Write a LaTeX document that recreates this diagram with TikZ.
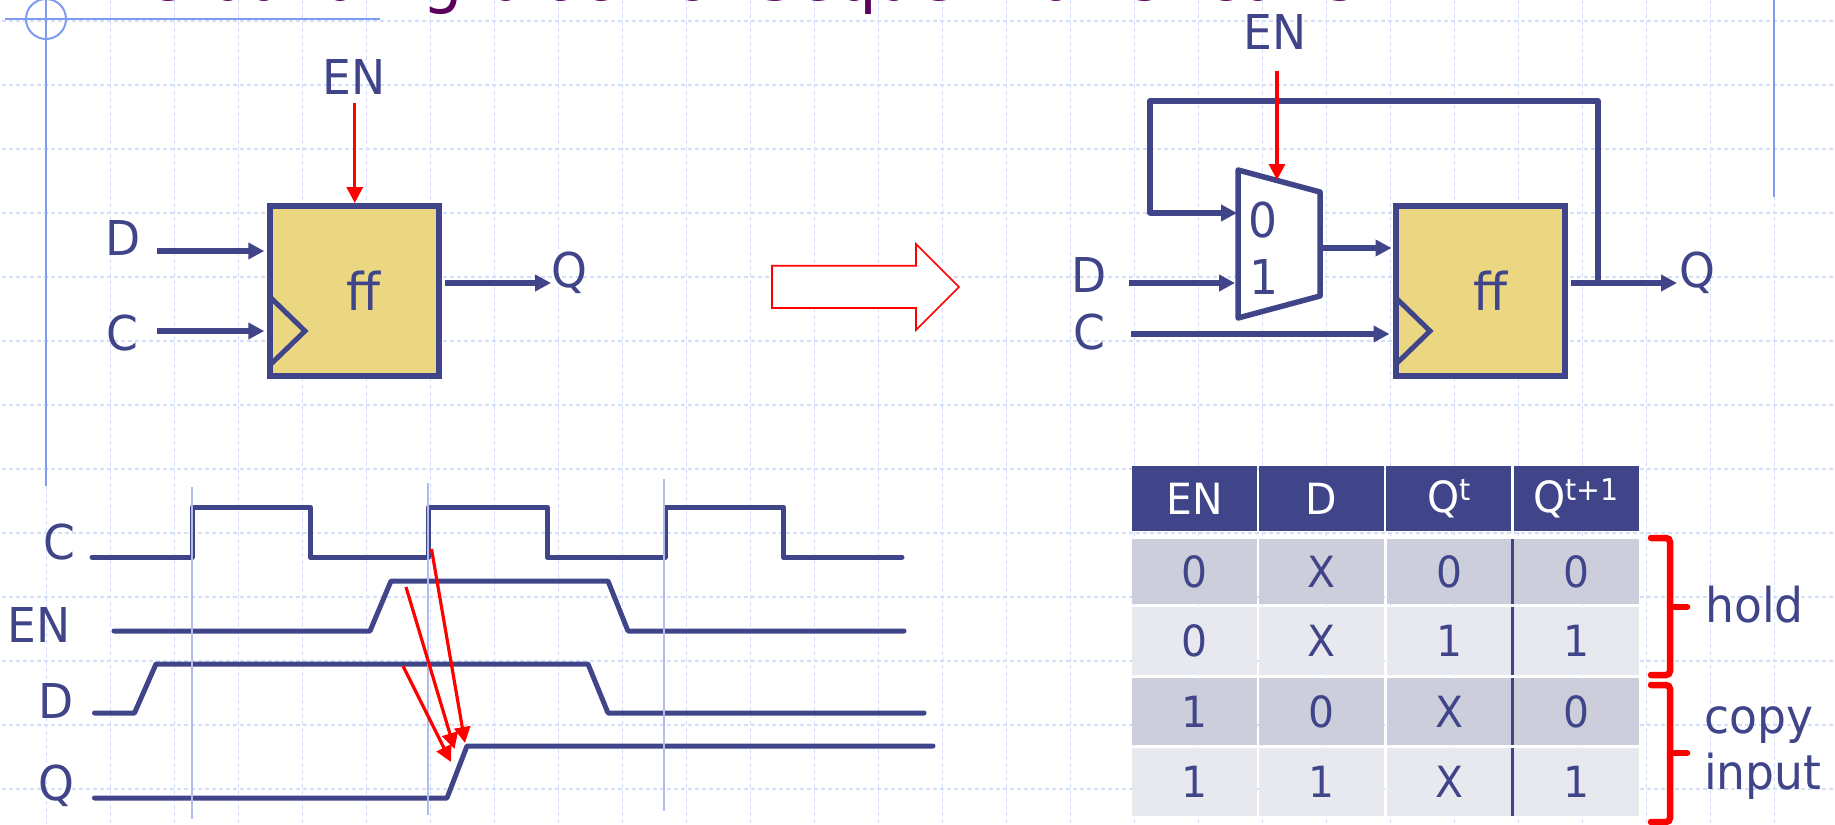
\documentclass[tikz,border=0pt]{standalone}
\usepackage{fontspec}
\setmainfont[FakeStretch=0.95]{DejaVu Sans}
\usetikzlibrary{arrows.meta,calc}
\definecolor{navy}{HTML}{40458A}
\definecolor{ffgold}{HTML}{EBD782}
\definecolor{gridc}{HTML}{D3DEF9}
\definecolor{rulec}{HTML}{7F9CF0}
\definecolor{edgec}{HTML}{B3BCEA}
\definecolor{rowd}{HTML}{CDCEDB}
\definecolor{rowl}{HTML}{E8E9EF}
\definecolor{titlec}{HTML}{5C0060}
\tikzset{
  lbl/.style={anchor=base,text=navy,inner sep=0pt,font=\fontsize{48}{48}\selectfont},
  fflbl/.style={lbl,font=\fontsize{52}{52}\selectfont},
  ffbox/.style={draw=navy,fill=ffgold,line width=6pt,minimum width=169pt,minimum height=170pt,inner sep=0pt},
  wire/.style={draw=navy,line width=5.5pt,-{Triangle[length=16pt,width=16pt]}},
  plainwire/.style={draw=navy,line width=5.5pt,line join=round,line cap=round},
  ctl/.style={draw=red,line width=3.2pt,-{Triangle[length=16pt,width=16pt]}},
  clk/.style={draw=navy,line width=5pt,line join=miter},
  wave/.style={draw=navy,line width=5pt,line join=round,line cap=round},
  edgeln/.style={draw=edgec,line width=2pt},
  brace/.style={draw=red,line width=6.5pt,rounded corners=4pt,line cap=round},
  cell/.style={minimum width=124.5pt,inner sep=0pt,text=navy,font=\fontsize{43}{43}\selectfont},
  hcell/.style={cell,fill=navy,text=white,minimum height=65pt},
  dcell/.style={cell,fill=rowd},
  lcell/.style={cell,fill=rowl},
  sepline/.style={draw=navy,line width=2.5pt},
  gridln/.style={draw=gridc,line width=1.5pt,dash pattern=on 4pt off 3pt},
}
\begin{document}
\begin{tikzpicture}[x=1pt,y=-1pt]
\useasboundingbox (0,0) rectangle (1835,824);
\clip (0,0) rectangle (1835,824);
\fill[white] (0,0) rectangle (1835,824);
% background grid
\foreach \k in {0,...,12}{\draw[gridln] (2,21+64*\k) -- (1835,21+64*\k);}
\foreach \k in {1,...,27}{\draw[gridln] (46.3+64*\k,0) -- (46.3+64*\k,824);}
\draw[gridln] (46.3,486) -- (46.3,824);
% slide furniture
\draw[rulec,line width=2pt] (46,0) -- (46,486);
\draw[rulec,line width=2pt] (5,19) -- (380,19);
\draw[rulec,line width=2pt] (46,19) circle (20);
\draw[rulec,line width=2pt] (1774,0) -- (1774,197);
\node[anchor=base west,inner sep=0pt,text=titlec,font=\fontsize{67.5}{67.5}\selectfont] (title) at (66,1) {The building block of Sequential Circuits};
% left flip-flop
\node[ffbox] (ffL) at (354.75,291) {};
\draw[clk] (270,297) -- (305,331) -- (270,365);
\node[fflbl] (ffLt) at (364,310) {ff};
\node[lbl] (enL) at (354,95) {EN};
\node[lbl] (dL) at (122.6,255) {D};
\node[lbl] (cL) at (122.6,350) {C};
\node[lbl] (qL) at (569,287) {Q};
\coordinate (enLs) at (354.75,103);
\coordinate (dLs) at (157,251);
\coordinate (cLs) at (157,331);
\coordinate (qLs) at (445,283);
\coordinate (qLe) at (551,283);
\draw[ctl] (enLs) -- (ffL.north);
\draw[wire,shorten >=3pt] (dLs) -- (ffL.west |- dLs);
\draw[wire,shorten >=3pt] (cLs) -- (ffL.west |- cLs);
\draw[wire] (qLs) -- (qLe);
% block arrow
\draw[red,line width=1.7pt,fill=white] (772,265.7) -- (916,265.7) -- (916,244) -- (959,287) -- (916,330) -- (916,308) -- (772,308) -- cycle;
% right circuit
\node[ffbox] (ffR) at (1480,291) {};
\draw[clk] (1395,297) -- (1430,331) -- (1395,365);
\node[fflbl] (ffRt) at (1490,310) {ff};
\draw[draw=navy,fill=white,line width=5.5pt,line join=round] (1238,170) coordinate (mTL) -- (1320,192) -- (1320,296) -- (1238,318) coordinate (mBL) -- cycle;
\coordinate (mTop) at (1277,180);
\node[lbl] (m0) at (1263,237) {0};
\node[lbl] (m1) at (1264,294) {1};
\node[lbl] (enR) at (1275,50) {EN};
\node[lbl] (dR) at (1089,292) {D};
\node[lbl] (cR) at (1089,349) {C};
\node[lbl] (qR) at (1697,287) {Q};
\coordinate (enRs) at (1277,71);
\coordinate (dRs) at (1129,283);
\coordinate (dRe) at (1235,283);
\coordinate (cRs) at (1131,334);
\coordinate (qRs) at (1571,283);
\coordinate (qRe) at (1677,283);
\coordinate (fbT) at (1598,283);
\coordinate (fbA) at (1598,101);
\coordinate (fbB) at (1150,101);
\coordinate (fbC) at (1150,213);
\coordinate (fbD) at (1237,213);
\coordinate (mxO) at (1323,248);
\draw[plainwire] (fbT) -- (fbA) -- (fbB) -- (fbC);
\draw[wire] (fbC) -- (fbD);
\draw[ctl] (enRs) -- (mTop);
\draw[wire] (dRs) -- (dRe);
\draw[wire,shorten >=3pt] (cRs) -- (ffR.west |- cRs);
\draw[wire,shorten >=1pt] (mxO) -- (ffR.west |- mxO);
\draw[wire] (qRs) -- (qRe);
% timing
\node[lbl] (tC) at (59,559) {C};
\node[lbl] (tEN) at (39,642) {EN};
\node[lbl] (tD) at (56,718) {D};
\node[lbl] (tQ) at (56,800) {Q};
\draw[wave] (92,557) -- (192,557) -- (192,507) -- (310,507) -- (310,557) -- (428.5,557) -- (428.5,507) -- (547,507) -- (547,557) -- (665,557) -- (665,507) -- (783,507) -- (783,557) -- (902,557);
\draw[wave] (114,631) -- (370,631) -- (391,581) -- (608,581) -- (628,631) -- (904,631);
\draw[wave] (94.5,713) -- (134.5,713) -- (156,664) -- (588,664) -- (608,713) -- (924,713);
\draw[wave] (94.5,798) -- (447,798) -- (467,746) -- (933,746);
% edge lines over waveforms
\foreach \x/\a/\b in {191.5/487/819,428/483/815,664/479/811}{\draw[edgeln] (\x,\a) -- (\x,\b);}
\coordinate (a1s) at (431.5,549); \coordinate (a1e) at (465,743);
\coordinate (a2s) at (406,587); \coordinate (a2e) at (454.5,749);
\coordinate (a3s) at (403,666); \coordinate (a3e) at (451,762);
\draw[ctl] (a1s) -- (a1e);
\draw[ctl] (a2s) -- (a2e);
\draw[ctl] (a3s) -- (a3e);
% table
\foreach \n/\x/\t in {a/1194.5/EN,b/1321.5/D,c/1448.7/{Q\raisebox{12pt}{\fontsize{30}{30}\selectfont t}},d/1576.3/{Q\raisebox{12pt}{\fontsize{30}{30}\selectfont t+1}}}{
  \node[hcell] (h\n) at (\x,498.5) {\t};}
\foreach \r/\y/\h/\st/\p/\q/\u/\v in {1/571.5/65/dcell/0/X/0/0,2/641/68/lcell/0/X/1/1,3/711.5/67/dcell/1/0/X/0,4/782/68/lcell/1/1/X/1}{
  \node[\st,minimum height=\h pt] (r\r a) at (1194.5,\y) {\p};
  \node[\st,minimum height=\h pt] (r\r b) at (1321.5,\y) {\q};
  \node[\st,minimum height=\h pt] (r\r c) at (1449.5,\y) {\u};
  \node[\st,minimum height=\h pt] (r\r d) at (1576.3,\y) {\v};
  \draw[sepline] (1512.7,\y-\h/2) -- (1512.7,\y+\h/2);
}
% braces
\draw[brace] (1651,538) -- (1670,538) -- (1670,675) -- (1651,675);
\draw[brace,rounded corners=0pt] (1670,607) -- (1687,607);
\draw[brace] (1651,685) -- (1670,685) -- (1670,822) -- (1651,822);
\draw[brace,rounded corners=0pt] (1670,753) -- (1687,753);
\node[lbl,anchor=base west] (hold) at (1705,622) {hold};
\node[lbl,anchor=base west] (copy) at (1704,733) {copy};
\node[lbl,anchor=base west] (input) at (1704,789) {input};
\end{tikzpicture}
\end{document}
